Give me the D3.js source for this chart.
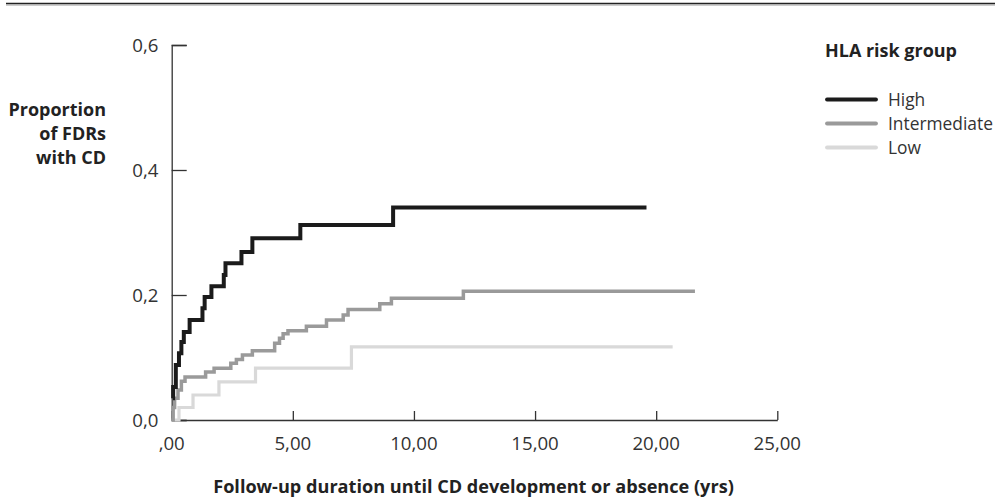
<!DOCTYPE html>
<html>
<head>
<meta charset="utf-8">
<script src="https://cdn.jsdelivr.net/npm/d3@7"></script>
<style>
  body { margin: 0; background: #fff; }
  text { font-family: "Open Sans", "Noto Sans", sans-serif; }
</style>
</head>
<body>
<div id="chart"></div>
<script>
// kaplan-meier style cumulative curves
var highTime  = [0.05, 0.06, 0.17, 0.30, 0.40, 0.50, 0.74, 1.27, 1.36, 1.64, 2.15, 2.22, 2.88, 3.33, 5.31, 9.14, 19.6];
var highProp  = [0.035, 0.053, 0.088, 0.107, 0.125, 0.141, 0.160, 0.179, 0.197, 0.214, 0.232, 0.251, 0.269, 0.291, 0.312, 0.340, 0.340];

var interTime = [0, 0.06, 0.12, 0.26, 0.40, 0.55, 1.40, 1.75, 2.44, 2.67, 2.92, 3.33, 4.25, 4.45, 4.60, 4.80, 5.56, 6.39, 7.08, 7.28, 8.59, 9.07, 12.04, 21.6];
var interProp = [0, 0.020, 0.035, 0.048, 0.062, 0.069, 0.077, 0.083, 0.091, 0.097, 0.104, 0.111, 0.123, 0.131, 0.138, 0.143, 0.150, 0.160, 0.168, 0.177, 0.186, 0.195, 0.206, 0.206];

var lowTime   = [0, 0.30, 0.88, 1.95, 3.46, 7.42, 20.68];
var lowProp   = [0, 0.020, 0.040, 0.061, 0.083, 0.117, 0.117];

var groupNames = ["High", "Intermediate", "Low"];
var xTicks = [0, 5, 10, 15, 20, 25];
var xTickLabels = [",00", "5,00", "10,00", "15,00", "20,00", "25,00"];
var yTicks = [0, 0.2, 0.4, 0.6];
var yTickLabels = ["0,0", "0,2", "0,4", "0,6"];

var width = 1001, height = 501;
var colors = ["#1b1b1b", "#9a9a9a", "#d9d9d9"];
var widths = [4, 3.5, 3.2];

var svg = d3.select("#chart").append("svg")
    .attr("width", width)
    .attr("height", height);

// size a text so its width matches the one in the picture
function fitSize(sel, base, target) {
  var w = sel.node().getComputedTextLength();
  var s = base * target / w;
  sel.attr("font-size", s);
  return s;
}

// rule at the top
svg.append("line")
    .attr("x1", 6).attr("x2", 995)
    .attr("y1", 3.5).attr("y2", 3.5)
    .attr("stroke", "#222").attr("stroke-width", 1.5);
svg.append("line")
    .attr("x1", 6).attr("x2", 995)
    .attr("y1", 5).attr("y2", 5)
    .attr("stroke", "#999").attr("stroke-width", 1);

var xScale = d3.scaleLinear().domain([0, 25]).range([171.7, 777.3]);
var yScale = d3.scaleLinear().domain([0, 0.6]).range([420, 45]);

// y axis, ticks point inward
var yAxis = d3.axisRight(yScale)
    .tickValues(yTicks)
    .tickSize(15)
    .tickFormat(function(d, i) { return ""; });
var gy = svg.append("g")
    .attr("transform", "translate(" + xScale(0) + ",0)")
    .call(yAxis);
gy.select(".domain").attr("stroke", "#333").attr("stroke-width", 1.3);
gy.selectAll(".tick line").attr("stroke", "#333").attr("stroke-width", 1.3);

// x axis, ticks point up
var xAxis = d3.axisTop(xScale)
    .tickValues(xTicks)
    .tickSize(9)
    .tickSizeOuter(0)
    .tickFormat(function(d) { return ""; });
var gx = svg.append("g")
    .attr("transform", "translate(0," + yScale(0) + ")")
    .call(xAxis);
gx.select(".domain").attr("stroke", "#333").attr("stroke-width", 1.3);
gx.selectAll(".tick line").attr("stroke", "#333").attr("stroke-width", 1.3);

// tick labels
var xl = svg.selectAll(".xlab")
    .data(xTicks)
    .enter()
    .append("text")
    .attr("class", "xlab")
    .attr("x", function(d) { return xScale(d); })
    .attr("y", 449.5)
    .attr("text-anchor", "middle")
    .attr("font-size", 18)
    .attr("fill", "#333")
    .text(function(d, i) { return xTickLabels[i]; });
var tickSize = fitSize(d3.select(xl.nodes()[2]), 18, 47.5);
xl.attr("font-size", tickSize);

svg.selectAll(".ylab")
    .data(yTicks)
    .enter()
    .append("text")
    .attr("class", "ylab")
    .attr("x", 158.5)
    .attr("y", function(d) { return yScale(d) + 6.5; })
    .attr("text-anchor", "end")
    .attr("font-size", tickSize)
    .attr("fill", "#333")
    .text(function(d, i) { return yTickLabels[i]; });

// axis titles
var xTitle = svg.append("text")
    .attr("x", 473.5)
    .attr("y", 493)
    .attr("text-anchor", "middle")
    .attr("font-size", 17)
    .attr("font-weight", "bold")
    .attr("fill", "#222")
    .text("Follow-up duration until CD development or absence (yrs)");
fitSize(xTitle, 17, 521);

// legend title
var legTitle = svg.append("text")
    .attr("x", 825)
    .attr("y", 57)
    .attr("font-size", 17)
    .attr("font-weight", "bold")
    .attr("fill", "#222")
    .text("HLA risk group");
var boldSize = fitSize(legTitle, 17, 132);

var yTitle = svg.append("text")
    .attr("text-anchor", "end")
    .attr("font-size", boldSize)
    .attr("font-weight", "bold")
    .attr("fill", "#222");
["Proportion", "of FDRs", "with CD"].forEach(function(t, i) {
  yTitle.append("tspan").attr("x", 106).attr("y", 116 + i * 24).text(t);
});

// curves
var series = [
  { name: groupNames[2], t: lowTime, p: lowProp, i: 2 },
  { name: groupNames[1], t: interTime, p: interProp, i: 1 },
  { name: groupNames[0], t: highTime, p: highProp, i: 0 }
];

var line = d3.line()
    .x(function(d) { return xScale(d[0]); })
    .y(function(d) { return yScale(d[1]); })
    .curve(d3.curveStepAfter);

series.forEach(function(s) {
  var pts = s.t.map(function(t, k) { return [t, s.p[k]]; });
  svg.append("path")
      .datum(pts)
      .attr("d", line)
      .attr("fill", "none")
      .attr("stroke", colors[s.i])
      .attr("stroke-width", widths[s.i]);
});

// legend
var legend = svg.selectAll(".legend")
    .data(groupNames)
    .enter()
    .append("g")
    .attr("class", "legend")
    .attr("transform", function(d, i) { return "translate(0," + (99.5 + i * 24) + ")"; });

legend.append("line")
    .attr("x1", 827).attr("x2", 876)
    .attr("y1", 0).attr("y2", 0)
    .attr("stroke", function(d, i) { return colors[i]; })
    .attr("stroke-width", 3.8)
    .attr("stroke-linecap", "round");

var legText = legend.append("text")
    .attr("x", 888)
    .attr("y", 6)
    .attr("font-size", 17)
    .attr("fill", "#333")
    .text(function(d) { return d; });
var legSize = fitSize(d3.select(legText.nodes()[1]), 17, 105);
legText.attr("font-size", legSize);
</script>
</body>
</html>
